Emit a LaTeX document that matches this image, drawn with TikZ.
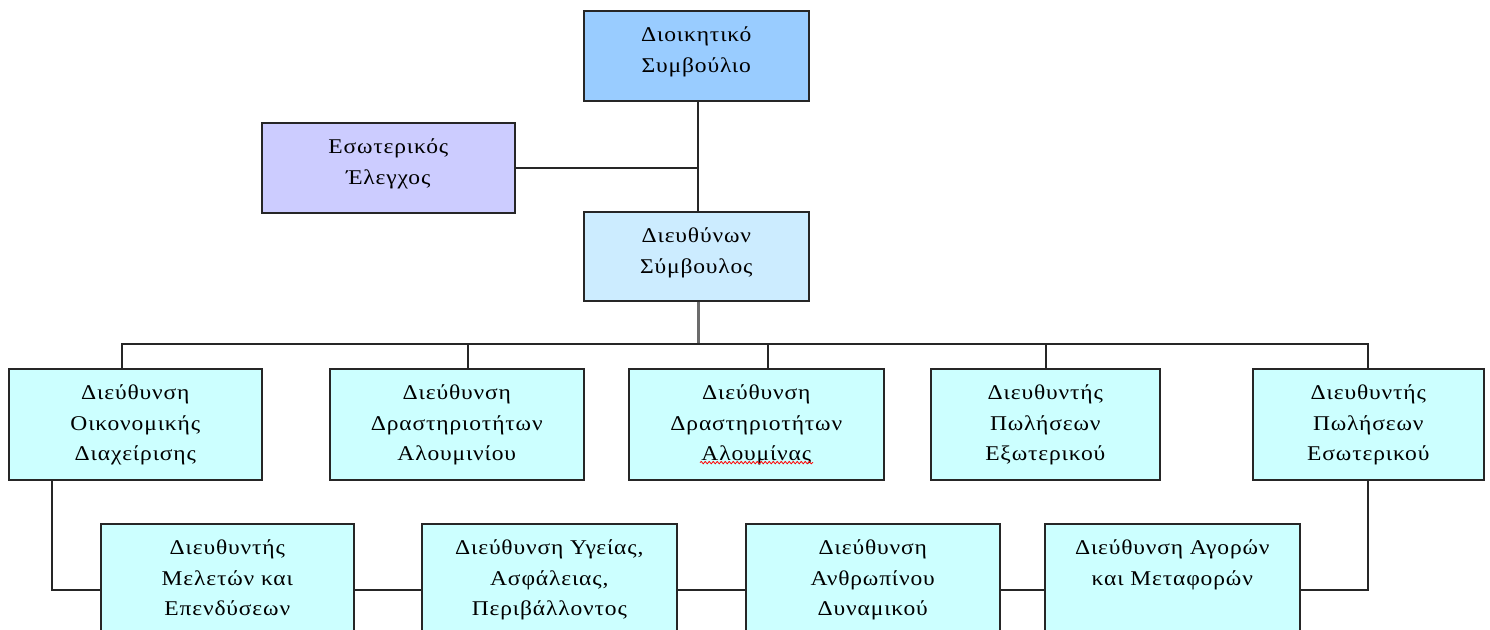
\documentclass[tikz,border=0pt]{standalone}
\usepackage{fontspec}
\setmainfont{Liberation Serif}
\newfontfamily\boxfont[FakeStretch=1.12, LetterSpace=4]{Liberation Serif}
\usetikzlibrary{decorations.pathmorphing}

\definecolor{boardblue}{HTML}{99CCFF}
\definecolor{auditlilac}{HTML}{CCCCFF}
\definecolor{ceoblue}{HTML}{CCECFF}
\definecolor{unitcyan}{HTML}{CCFFFF}
\definecolor{edgeline}{HTML}{262626}

% box text: fixed-size parbox, first baseline about 31pt below the top edge
\newcommand\orgtext[3]{\parbox[c][#2][t]{#1}{\centering\boxfont\fontsize{21}{30.5}\selectfont\rule{0pt}{31pt}#3}}

\begin{document}
\begin{tikzpicture}[x=1pt,y=-1pt,
  orgbox/.style={draw=edgeline, line width=1.6pt, inner sep=0pt, anchor=north west},
  link/.style={draw=edgeline, line width=1.4pt},
  trunk/.style={draw=gray!85!black, line width=3pt}]
\useasboundingbox (0,0) rectangle (1490,629);
\fill[white] (0,0) rectangle (1490,629);

% top levels
\node[orgbox, fill=boardblue] (board) at (583,10) {\orgtext{225pt}{90pt}{Διοικητικό\\Συμβούλιο}};
\node[orgbox, fill=auditlilac] (audit) at (261,122) {\orgtext{253pt}{90pt}{Εσωτερικός\\Έλεγχος}};
\node[orgbox, fill=ceoblue] (ceo) at (583,211) {\orgtext{225pt}{89pt}{Διευθύνων\\Σύμβουλος}};

% second row
\node[orgbox, fill=unitcyan] (fin) at (8,368) {\orgtext{253pt}{111pt}{Διεύθυνση\\Οικονομικής\\Διαχείρισης}};
\node[orgbox, fill=unitcyan] (alu) at (329,368) {\orgtext{254pt}{111pt}{Διεύθυνση\\Δραστηριοτήτων\\Αλουμινίου}};
\node[orgbox, fill=unitcyan] (alumina) at (628,368) {\orgtext{255pt}{111pt}{Διεύθυνση\\Δραστηριοτήτων\\Αλουμίνας}};
\node[orgbox, fill=unitcyan] (export) at (930,368) {\orgtext{229pt}{111pt}{Διευθυντής\\Πωλήσεων\\Εξωτερικού}};
\node[orgbox, fill=unitcyan] (domestic) at (1252,368) {\orgtext{231pt}{111pt}{Διευθυντής\\Πωλήσεων\\Εσωτερικού}};

% third row
\node[orgbox, fill=unitcyan] (invest) at (100,523) {\orgtext{253pt}{111pt}{Διευθυντής\\Μελετών και\\Επενδύσεων}};
\node[orgbox, fill=unitcyan] (hse) at (421,523) {\orgtext{255pt}{111pt}{Διεύθυνση Υγείας,\\Ασφάλειας,\\Περιβάλλοντος}};
\node[orgbox, fill=unitcyan] (hr) at (745,523) {\orgtext{254pt}{111pt}{Διεύθυνση\\Ανθρωπίνου\\Δυναμικού}};
\node[orgbox, fill=unitcyan] (markets) at (1044,523) {\orgtext{255pt}{111pt}{Διεύθυνση Αγορών\\και Μεταφορών}};

% spell-check squiggle under the last word
\draw[red, line width=0.8pt, decorate, decoration={snake, amplitude=1.2pt, segment length=4pt}]
  ([xshift=72pt, yshift=18pt]alumina.south west) -- ([xshift=185pt, yshift=18pt]alumina.south west);

% routing points
\coordinate (spine) at (698,0);
\coordinate (busL) at (122,344);
\coordinate (busA) at (468,344);
\coordinate (busB) at (768,344);
\coordinate (busC) at (1046,344);
\coordinate (busR) at (1368,344);
\coordinate (lowrow) at (0,590);
\coordinate (drop) at (52,0);

% connectors
\draw[link] (board.south -| spine) -- (ceo.north -| spine);
\draw[link] (audit.east) -- (audit.east -| spine);
\draw[trunk] (ceo.south -| spine) -- (busL -| spine);
\draw[link] (fin.north -| busL) -- (busL) -- (busR) -- (domestic.north -| busR);
\draw[link] (busA) -- (alu.north -| busA);
\draw[link] (busB) -- (alumina.north -| busB);
\draw[link] (busC) -- (export.north -| busC);
\draw[link] (fin.south -| drop) |- (invest.west |- lowrow);
\draw[link] (invest.east |- lowrow) -- (hse.west |- lowrow);
\draw[link] (hse.east |- lowrow) -- (hr.west |- lowrow);
\draw[link] (hr.east |- lowrow) -- (markets.west |- lowrow);
\draw[link] (markets.east |- lowrow) -| (domestic.south -| busR);
\end{tikzpicture}
\end{document}
